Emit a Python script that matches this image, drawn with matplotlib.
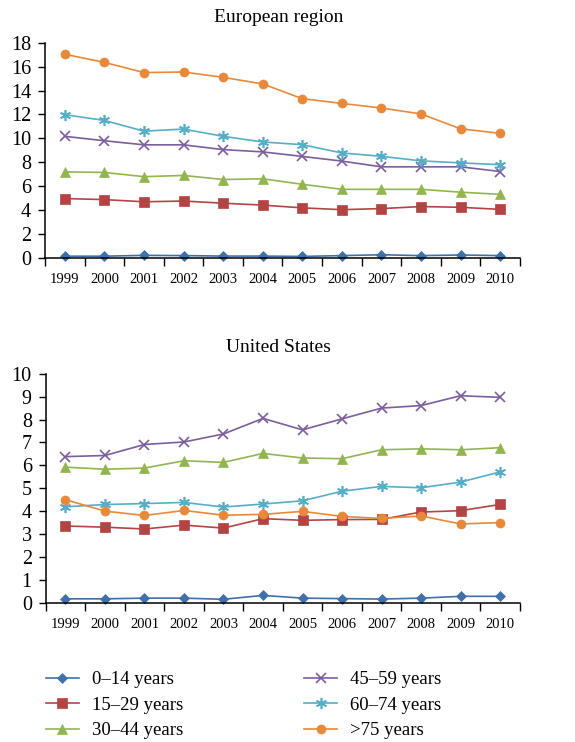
import matplotlib
matplotlib.use("Agg")
import matplotlib.pyplot as plt
import numpy as np

plt.rcParams['font.family'] = ['Liberation Serif', 'DejaVu Serif']

years = ['1999', '2000', '2001', '2002', '2003', '2004',
         '2005', '2006', '2007', '2008', '2009', '2010']
groups = ['0–14 years', '15–29 years', '30–44 years',
          '45–59 years', '60–74 years', '>75 years']

# European region
eu_0_14 = [0.15, 0.15, 0.22, 0.2, 0.16, 0.16, 0.13, 0.2, 0.27, 0.2, 0.25, 0.2]
eu_15_29 = [4.97, 4.88, 4.7, 4.76, 4.58, 4.42, 4.19, 4.04, 4.13, 4.3, 4.24, 4.06]
eu_30_44 = [7.2, 7.15, 6.8, 6.9, 6.56, 6.62, 6.16, 5.74, 5.74, 5.74, 5.5, 5.32]
eu_45_59 = [10.17, 9.8, 9.46, 9.46, 9.06, 8.87, 8.49, 8.1, 7.62, 7.62, 7.62, 7.23]
eu_60_74 = [11.98, 11.5, 10.6, 10.78, 10.17, 9.7, 9.47, 8.78, 8.5, 8.12, 7.95, 7.8]
eu_75 = [17.03, 16.35, 15.5, 15.55, 15.1, 14.55, 13.32, 12.92, 12.54, 12.04, 10.8, 10.42]

# United States
us_0_14 = [0.17, 0.17, 0.2, 0.2, 0.15, 0.32, 0.2, 0.18, 0.16, 0.2, 0.28, 0.28]
us_15_29 = [3.35, 3.3, 3.22, 3.39, 3.26, 3.67, 3.6, 3.63, 3.64, 3.96, 4.02, 4.29]
us_30_44 = [5.92, 5.83, 5.88, 6.2, 6.13, 6.52, 6.32, 6.29, 6.68, 6.72, 6.68, 6.77]
us_45_59 = [6.38, 6.43, 6.91, 7.02, 7.37, 8.05, 7.55, 8.03, 8.5, 8.61, 9.04, 8.97]
us_60_74 = [4.19, 4.29, 4.33, 4.38, 4.18, 4.31, 4.45, 4.87, 5.08, 5.02, 5.27, 5.71]
us_75 = [4.5, 4.0, 3.81, 4.03, 3.82, 3.86, 3.99, 3.77, 3.68, 3.79, 3.44, 3.5]

colors = ['#3F70AA', '#B44444', '#92B550', '#7B5E9E', '#55AEC8', '#E8893A']
markers = ['D', 's', '^', 'x', (6, 2, 0), 'o']
msizes = [5.5, 6.5, 7.5, 6.5, 8, 6.5]

fig = plt.figure(figsize=(5.75, 7.42), dpi=100)
ax1 = fig.add_axes([0.0783, 0.6523, 0.826, 0.2902])
ax2 = fig.add_axes([0.0795, 0.1877, 0.8245, 0.3086])

x = np.arange(len(years))


def draw(ax, series, ymax, step, title, title_y):
    for vals, c, m, ms, lab in zip(series, colors, markers, msizes, groups):
        ax.plot(x, vals, color=c, marker=m, markersize=ms, linewidth=1.2,
                markeredgewidth=1.2 if m in ('x', (6, 2, 0)) else 0.5,
                markeredgecolor=c, label=lab, clip_on=False)
    ax.set_xlim(-0.5, len(years) - 0.5)
    ax.set_ylim(0, ymax)
    ax.set_yticks(np.arange(0, ymax + 0.01, step))
    ax.set_xticks(x)
    ax.set_xticklabels(years, fontsize=10.5)
    ax.set_xticks(np.arange(-0.5, len(years)), minor=True)
    ax.tick_params(axis='x', which='major', length=0, pad=11)
    ax.tick_params(axis='x', which='minor', length=6, width=1, direction='out')
    ax.tick_params(axis='y', length=5, width=1, direction='out', pad=5, labelsize=14.5)
    for s in ['top', 'right']:
        ax.spines[s].set_visible(False)
    for s in ['left', 'bottom']:
        ax.spines[s].set_linewidth(1.1)
    fig.text(0.485, title_y, title, ha='center', va='center', fontsize=14)


draw(ax1, [eu_0_14, eu_15_29, eu_30_44, eu_45_59, eu_60_74, eu_75],
     18, 2, 'European region', 0.977)
draw(ax2, [us_0_14, us_15_29, us_30_44, us_45_59, us_60_74, us_75],
     10, 1, 'United States', 0.531)

handles, labels = ax1.get_legend_handles_labels()
fig.legend(handles, labels, ncol=2, loc='upper left',
           bbox_to_anchor=(0.08, 0.0955), frameon=False, fontsize=13.5,
           handlelength=1.75, handletextpad=0.7, columnspacing=6.45,
           labelspacing=0.45, borderaxespad=0, borderpad=0)

fig.savefig('out.png', dpi=100)
